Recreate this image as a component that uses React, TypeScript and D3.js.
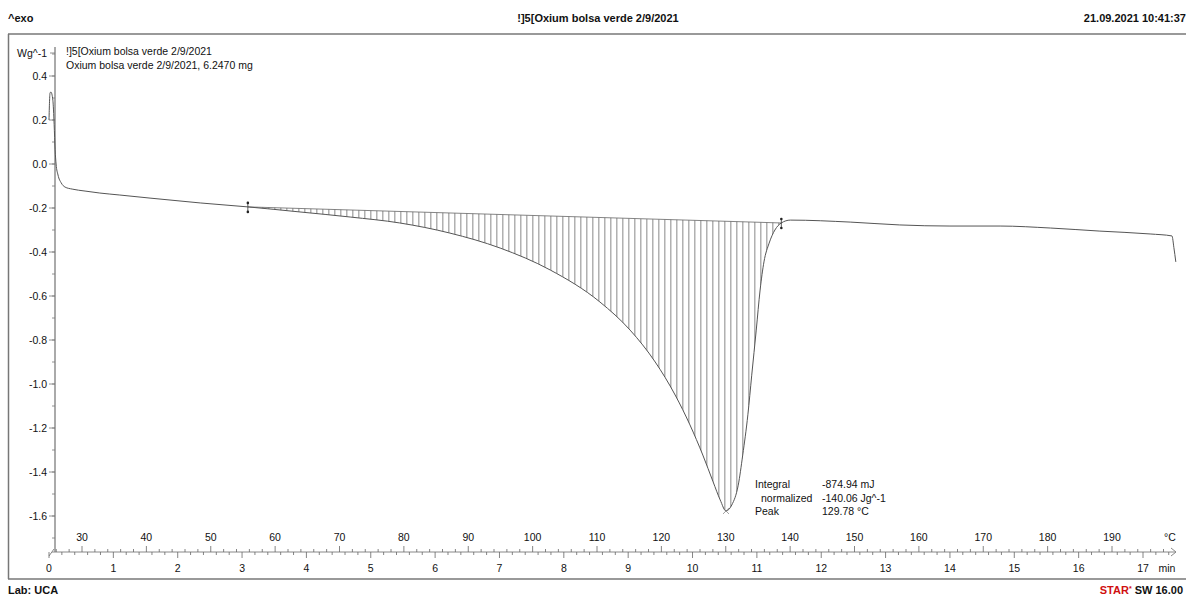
import React from "react";
import * as d3 from "d3";

// DSC curve (time in min, heat flow in W/g)
const timeMin = [
  0, 0.016, 0.03, 0.06, 0.08, 0.095, 0.11, 0.14, 0.19, 0.25, 0.36, 0.56, 0.79,
  1.1, 1.57, 2.35, 3.09, 3.9, 4.68, 5.45, 6.23, 7.01, 7.79, 8.56, 9.03, 9.42,
  9.73, 9.96, 10.16, 10.32, 10.43, 10.52, 10.61, 10.71, 10.78, 10.86, 10.92,
  10.99, 11.05, 11.11, 11.19, 11.28, 11.38, 11.52, 12.45, 13.22, 14.0, 14.78,
  15.56, 16.33, 17.11, 17.45, 17.48, 17.51,
];
const heatFlow = [
  0.2, 0.323, 0.327, 0.29, 0.18, 0.065, 0.0, -0.05, -0.086, -0.105, -0.114,
  -0.123, -0.132, -0.141, -0.155, -0.177, -0.195, -0.218, -0.241, -0.268,
  -0.314, -0.382, -0.482, -0.627, -0.755, -0.9, -1.05, -1.186, -1.323, -1.445,
  -1.527, -1.577, -1.55, -1.46, -1.323, -1.14, -0.96, -0.755, -0.573, -0.445,
  -0.36, -0.3, -0.268, -0.255, -0.264, -0.277, -0.282, -0.282, -0.291, -0.305,
  -0.318, -0.327, -0.38, -0.445,
];

const integStart = { t: 3.09, v: -0.195 };
const integEnd = { t: 11.38, v: -0.268 };
const peak = { t: 10.52, v: -1.577 };

const yMajor = [0.4, 0.2, 0.0, -0.2, -0.4, -0.6, -0.8, -1.0, -1.2, -1.4, -1.6];
const timeLabels = d3.range(0, 18);
const tempLabels = d3.range(30, 200, 10);

const resultRows = [
  { name: "Integral", value: "-874.94 mJ", indent: 0 },
  { name: "normalized", value: "-140.06 Jg^-1", indent: 6 },
  { name: "Peak", value: "129.78 °C", indent: 0 },
];

const FONT = "'Liberation Sans', Arial, sans-serif";

export default function App() {
  const W = 1186;
  const H = 595;
  const axisY = 552;
  const axisX = 55;

  const x = d3.scaleLinear().domain([0, 17]).range([49, 1143]);
  const xT = d3.scaleLinear().domain([30, 190]).range([82, 1112]);
  const y = d3.scaleLinear().domain([0.4, -1.6]).range([76, 516]);

  const pts = timeMin.map((t, i) => [t, heatFlow[i]] as [number, number]);
  const line = d3
    .line<[number, number]>()
    .x((d) => x(d[0]))
    .y((d) => y(d[1]))
    .curve(d3.curveMonotoneX);

  const base = (t: number) =>
    integStart.v +
    ((t - integStart.t) / (integEnd.t - integStart.t)) * (integEnd.v - integStart.v);

  const inPeak = pts.filter((d) => d[0] >= integStart.t && d[0] <= integEnd.t);
  const area = d3
    .area<[number, number]>()
    .x((d) => x(d[0]))
    .y0((d) => y(base(d[0])))
    .y1((d) => y(d[1]))
    .curve(d3.curveMonotoneX);

  const hatchX = d3.range(x(integStart.t) + 3, x(integEnd.t), 6);

  const yMinor = d3.range(-17, 6).map((i) => i / 10);
  const timeMinor = d3.range(0, 88).map((i) => i * 0.2);
  const tempMinor = d3.range(26, 200, 2);

  const marker = (t: number, v: number) => {
    const cx = x(t);
    const cy = y(v);
    return (
      <g key={t}>
        <line x1={cx} x2={cx} y1={cy - 5} y2={cy + 5} stroke="#333" strokeWidth={0.8} />
        <circle cx={cx} cy={cy - 4} r={1.3} fill="#222" />
        <circle cx={cx} cy={cy + 5} r={1.3} fill="#222" />
      </g>
    );
  };

  return (
    <svg
      width={W}
      height={H}
      style={{ position: "absolute", left: 0, top: 0, background: "#fff" }}
      fontFamily={FONT}
    >
      <defs>
        <clipPath id="peakClip">
          <path d={area(inPeak) || ""} />
        </clipPath>
      </defs>

      {/* header */}
      <text x={8} y={22} fontSize={11} fontWeight="bold" fill="#111">^exo</text>
      <text x={598} y={22} fontSize={11} fontWeight="bold" fill="#111" textAnchor="middle">
        !]5[Oxium bolsa verde 2/9/2021
      </text>
      <text x={1186} y={22} fontSize={11} fontWeight="bold" fill="#111" textAnchor="end">
        21.09.2021 10:41:37
      </text>

      {/* frame */}
      <line x1={8} x2={W} y1={34} y2={34} stroke="#777" strokeWidth={1.5} />
      <line x1={8} x2={W} y1={579} y2={579} stroke="#777" strokeWidth={1.5} />
      <line x1={8.5} x2={8.5} y1={34} y2={579} stroke="#777" strokeWidth={1.5} />

      {/* footer */}
      <text x={8} y={594} fontSize={11} fontWeight="bold" fill="#111">Lab: UCA</text>
      <text x={1183} y={594} fontSize={11} fontWeight="bold" textAnchor="end">
        <tspan fill="#d01010">STAR</tspan>
        <tspan fill="#d01010" fontSize={7} dy={-3}>*</tspan>
        <tspan fill="#111" dy={3}> SW 16.00</tspan>
      </text>

      {/* curve info */}
      <text x={66} y={55} fontSize={10.5} fill="#111">!]5[Oxium bolsa verde 2/9/2021</text>
      <text x={66} y={69} fontSize={10.5} fill="#111">Oxium bolsa verde 2/9/2021, 6.2470 mg</text>

      {/* y axis */}
      <line x1={axisX} x2={axisX} y1={47} y2={axisY} stroke="#aaa" strokeWidth={2} />
      <line x1={axisX - 5} x2={axisX} y1={53} y2={53} stroke="#777" strokeWidth={0.8} />
      <text x={47} y={57} fontSize={10.5} fill="#111" textAnchor="end">Wg^-1</text>
      {yMinor.map((v) => (
        <line key={"ym" + v} x1={axisX - 3} x2={axisX} y1={y(v)} y2={y(v)} stroke="#777" strokeWidth={0.8} />
      ))}
      {yMajor.map((v) => (
        <g key={"y" + v}>
          <line x1={axisX - 6} x2={axisX} y1={y(v)} y2={y(v)} stroke="#777" strokeWidth={0.8} />
          <text x={47} y={y(v) + 3.5} fontSize={10.5} fill="#111" textAnchor="end">
            {v.toFixed(1)}
          </text>
        </g>
      ))}

      {/* x axis */}
      <line x1={52} x2={1176} y1={axisY} y2={axisY} stroke="#888" strokeWidth={1} />
      <path d={`M49,${axisY + 4} L54,${axisY - 3}`} stroke="#888" fill="none" />
      <path d={`M1171,${axisY - 4} L1176,${axisY} L1171,${axisY + 4}`} stroke="#888" fill="none" />
      {tempMinor.map((T) => (
        <line key={"tm" + T} x1={xT(T)} x2={xT(T)} y1={axisY} y2={axisY - (T % 10 === 0 ? 6 : 3)} stroke="#666" strokeWidth={0.8} />
      ))}
      {timeMinor
        .filter((t) => x(t) < 1170)
        .map((t) => (
          <line key={"ti" + t} x1={x(t)} x2={x(t)} y1={axisY} y2={axisY + (Math.abs(t - Math.round(t)) < 1e-6 ? 6 : 3)} stroke="#666" strokeWidth={0.8} />
        ))}
      {tempLabels.map((T) => (
        <text key={"tl" + T} x={xT(T)} y={541} fontSize={10.5} fill="#111" textAnchor="middle">{T}</text>
      ))}
      <text x={1170} y={541} fontSize={10.5} fill="#111" textAnchor="middle">°C</text>
      {timeLabels.map((t) => (
        <text key={"xl" + t} x={x(t)} y={572} fontSize={10.5} fill="#111" textAnchor="middle">{t}</text>
      ))}
      <text x={1167} y={572} fontSize={10.5} fill="#111" textAnchor="middle">min</text>

      {/* hatched integral */}
      <g clipPath="url(#peakClip)">
        {hatchX.map((hx, i) => (
          <line key={"h" + i} x1={hx} x2={hx} y1={190} y2={530} stroke="#555" strokeWidth={0.7} />
        ))}
      </g>
      <line
        x1={x(integStart.t)}
        x2={x(integEnd.t)}
        y1={y(integStart.v)}
        y2={y(integEnd.v)}
        stroke="#666"
        strokeWidth={0.8}
      />

      {/* curve */}
      <path d={line(pts) || ""} fill="none" stroke="#555" strokeWidth={1} />

      {marker(integStart.t, integStart.v)}
      {marker(integEnd.t, integEnd.v)}
      <path
        d={`M${x(peak.t) - 3},${y(peak.v) - 3} L${x(peak.t) + 3},${y(peak.v) + 3} M${x(peak.t) + 3},${y(peak.v) - 3} L${x(peak.t) - 3},${y(peak.v) + 3}`}
        stroke="#777"
        strokeWidth={0.7}
      />

      {/* results */}
      {resultRows.map((r, i) => (
        <g key={r.name}>
          <text x={755 + r.indent} y={488 + i * 13.5} fontSize={10.5} fill="#111">{r.name}</text>
          <text x={822} y={488 + i * 13.5} fontSize={10.5} fill="#111">{r.value}</text>
        </g>
      ))}
    </svg>
  );
}
